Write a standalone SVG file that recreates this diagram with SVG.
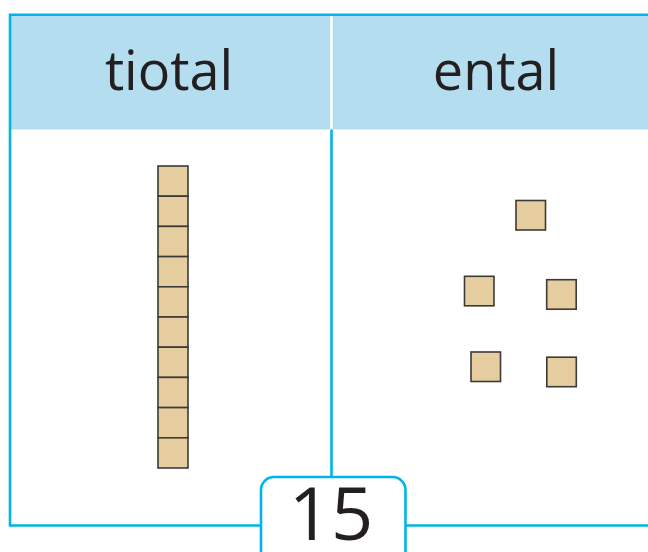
<svg xmlns="http://www.w3.org/2000/svg" width="648" height="552" viewBox="0 0 648 552">
<style>
.tile{fill:#e6cd9f;stroke:#3c3a38;stroke-width:1.6}
.head{font-family:"Open Sans",sans-serif;font-size:54px;fill:#231f20;text-anchor:middle}
.blue{stroke:#00b5e6;stroke-width:2.6}
</style>
<rect width="648" height="552" fill="#fff"/>
<g id="table">
<rect x="10" y="16" width="640" height="113.5" fill="#b4ddef"/>
<line x1="331.5" y1="16" x2="331.5" y2="129.5" stroke="#fff" stroke-width="2.5"/>
<line x1="331.5" y1="129.5" x2="331.5" y2="477" class="blue" fill="none"/>
<path d="M650 14.7 H10 V525.5 H650" class="blue" fill="none"/>
</g>
<g id="header-tiotal"><text class="head" x="169" y="90">tiotal</text></g>
<g id="header-ental"><text class="head" x="496" y="90">ental</text></g>
<g id="tens-rod">
<rect class="tile" x="158" y="166" width="30" height="30.2"/>
<rect class="tile" x="158" y="196.2" width="30" height="30.2"/>
<rect class="tile" x="158" y="226.4" width="30" height="30.2"/>
<rect class="tile" x="158" y="256.6" width="30" height="30.2"/>
<rect class="tile" x="158" y="286.8" width="30" height="30.2"/>
<rect class="tile" x="158" y="317" width="30" height="30.2"/>
<rect class="tile" x="158" y="347.2" width="30" height="30.2"/>
<rect class="tile" x="158" y="377.4" width="30" height="30.2"/>
<rect class="tile" x="158" y="407.6" width="30" height="30.2"/>
<rect class="tile" x="158" y="437.8" width="30" height="30.2"/>
</g>
<g id="ones">
<rect class="tile" x="516" y="200.5" width="29.5" height="29.5"/>
<rect class="tile" x="464.5" y="276.3" width="29.5" height="29.5"/>
<rect class="tile" x="546.7" y="279.7" width="29.5" height="29.5"/>
<rect class="tile" x="471" y="352" width="29.5" height="29.5"/>
<rect class="tile" x="546.8" y="357.2" width="29.5" height="29.5"/>
</g>
<g id="number-box">
<rect x="261" y="477" width="144.5" height="100" rx="13" fill="#fff" class="blue"/>
<text x="331" y="540" font-family="Open Sans, sans-serif" font-size="74" fill="#231f20" text-anchor="middle">15</text>
</g>
</svg>
